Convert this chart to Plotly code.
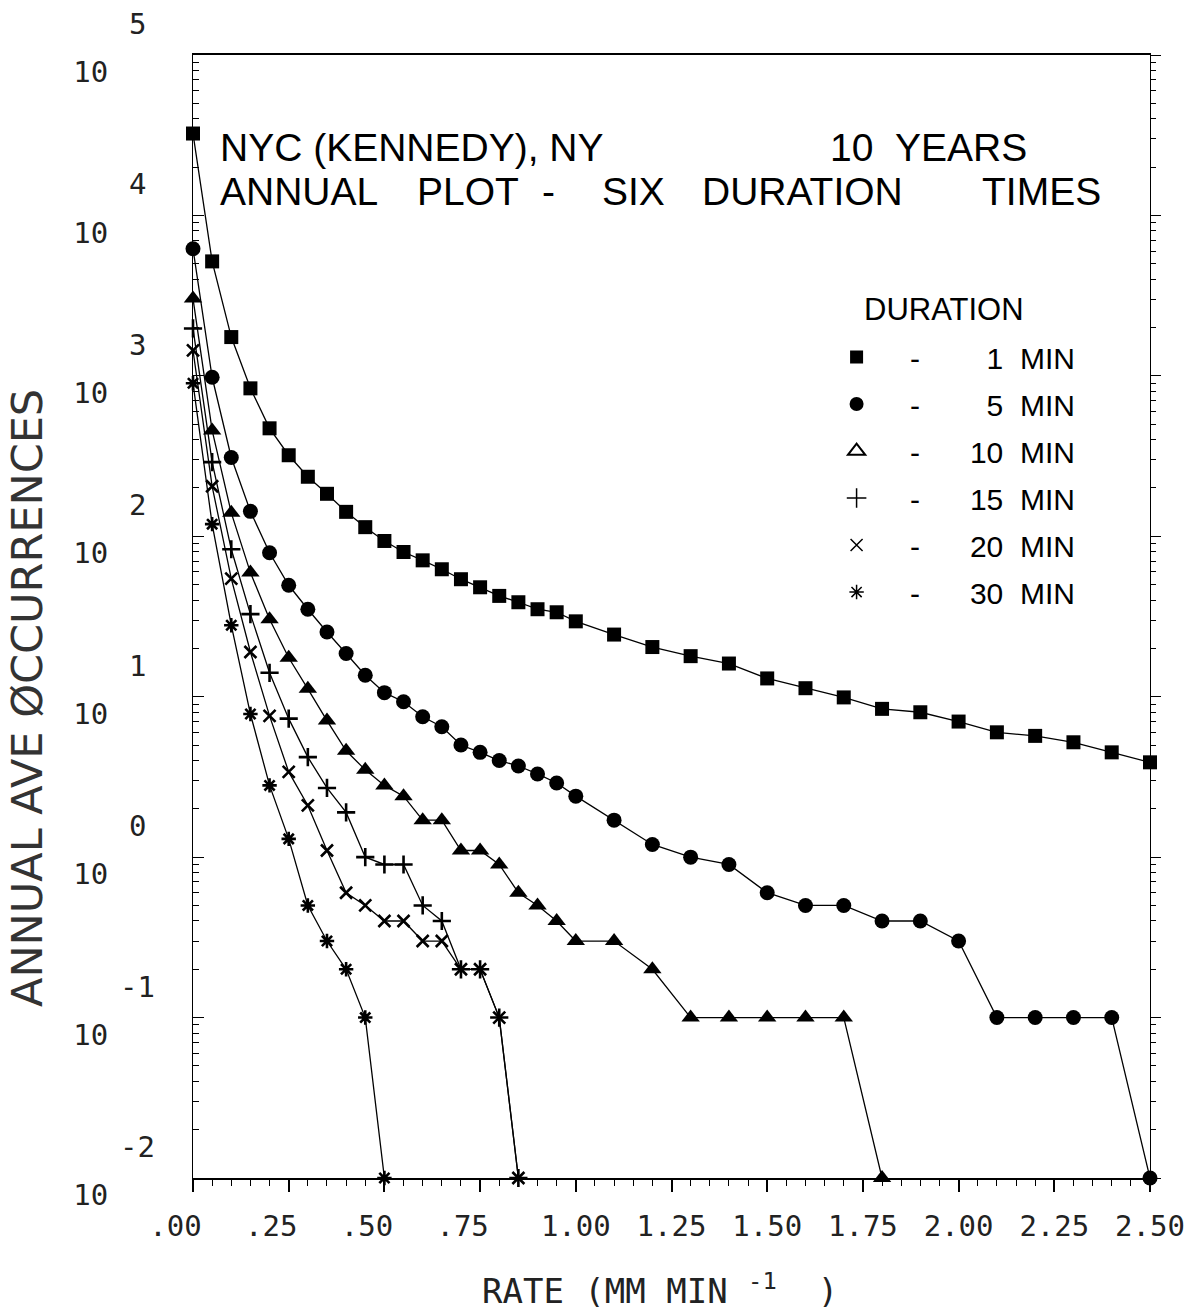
import plotly.graph_objects as go

# ---------------- data ----------------
rate_1_5 = [0.00, 0.05, 0.10, 0.15, 0.20, 0.25, 0.30, 0.35, 0.40, 0.45, 0.50,
            0.55, 0.60, 0.65, 0.70, 0.75, 0.80, 0.85, 0.90, 0.95, 1.00,
            1.10, 1.20, 1.30, 1.40, 1.50, 1.60, 1.70, 1.80, 1.90, 2.00,
            2.10, 2.20, 2.30, 2.40, 2.50]
occ_1min = [32400, 5170, 1745, 836, 471, 320, 235, 184, 142, 114, 93.5,
            79.8, 70.8, 62.3, 54.0, 48.1, 42.5, 38.8, 35.1, 33.6, 29.5,
            24.4, 20.4, 17.9, 16.1, 13.0, 11.3, 9.9, 8.4, 8.0, 7.0,
            6.0, 5.7, 5.2, 4.5, 3.9]
occ_5min = [6200, 980, 310, 143, 79, 49.5, 35.1, 25.3, 18.6, 13.6, 10.6,
            9.3, 7.5, 6.5, 5.0, 4.5, 4.0, 3.7, 3.3, 2.9, 2.4,
            1.7, 1.2, 1.0, 0.9, 0.6, 0.5, 0.5, 0.4, 0.4, 0.3,
            0.1, 0.1, 0.1, 0.1, 0.01]
rate_10 = [0.00, 0.05, 0.10, 0.15, 0.20, 0.25, 0.30, 0.35, 0.40, 0.45, 0.50,
           0.55, 0.60, 0.65, 0.70, 0.75, 0.80, 0.85, 0.90, 0.95, 1.00,
           1.10, 1.20, 1.30, 1.40, 1.50, 1.60, 1.70, 1.80]
occ_10min = [3030, 457, 140, 59.4, 30.4, 17.5, 11.2, 7.1, 4.6, 3.5, 2.8,
             2.4, 1.7, 1.7, 1.1, 1.1, 0.9, 0.6, 0.5, 0.4, 0.3,
             0.3, 0.2, 0.1, 0.1, 0.1, 0.1, 0.1, 0.01]
rate_15_20 = [0.00, 0.05, 0.10, 0.15, 0.20, 0.25, 0.30, 0.35, 0.40, 0.45,
              0.50, 0.55, 0.60, 0.65, 0.70, 0.75, 0.80, 0.85]
occ_15min = [1975, 290, 83, 32.7, 14.1, 7.3, 4.2, 2.7, 1.9, 1.0,
             0.9, 0.9, 0.5, 0.4, 0.2, 0.2, 0.1, 0.01]
occ_20min = [1440, 205, 54.5, 19.0, 7.6, 3.4, 2.1, 1.1, 0.6, 0.5,
             0.4, 0.4, 0.3, 0.3, 0.2, 0.2, 0.1, 0.01]
rate_30 = [0.00, 0.05, 0.10, 0.15, 0.20, 0.25, 0.30, 0.35, 0.40, 0.45, 0.50]
occ_30min = [900, 119, 27.9, 7.8, 2.8, 1.3, 0.5, 0.3, 0.2, 0.1, 0.01]

duration_labels = ["1", "5", "10", "15", "20", "30"]
x_ticks = [0.00, 0.25, 0.50, 0.75, 1.00, 1.25, 1.50, 1.75, 2.00, 2.25, 2.50]
x_ticktext = [".00", ".25", ".50", ".75", "1.00", "1.25", "1.50", "1.75", "2.00", "2.25", "2.50"]
y_exponents = [-2, -1, 0, 1, 2, 3, 4, 5]

# ---------------- styles ----------------
FONT = "Liberation Sans, Arial, Helvetica, sans-serif"
MONO = "DejaVu Sans Mono, Liberation Mono, monospace"
WIDE = "DejaVu Sans, Liberation Sans, sans-serif"
NB = "\u00a0"

series = [
    (rate_1_5, occ_1min, dict(symbol="square", size=14, color="black")),
    (rate_1_5, occ_5min, dict(symbol="circle", size=15, color="black")),
    (rate_10, occ_10min, dict(symbol="triangle-up", size=16, color="black")),
    (rate_15_20, occ_15min, dict(symbol="cross-thin", size=13, color="black",
                                 line=dict(color="black", width=2.6))),
    (rate_15_20, occ_20min, dict(symbol="x-thin", size=12, color="black",
                                 line=dict(color="black", width=2.6))),
    (rate_30, occ_30min, dict(symbol="asterisk", size=12, color="black",
                              line=dict(color="black", width=2.6))),
]

legend_markers = [
    dict(symbol="square", size=13, color="black"),
    dict(symbol="circle", size=14, color="black"),
    dict(symbol="triangle-up-open", size=15, color="black", line=dict(width=2)),
    dict(symbol="cross-thin", size=14, color="black", line=dict(color="black", width=1.5)),
    dict(symbol="x-thin", size=12, color="black", line=dict(color="black", width=1.5)),
    dict(symbol="asterisk", size=12, color="black", line=dict(color="black", width=1.5)),
]

fig = go.Figure()

for xs, ys, mk in series:
    fig.add_trace(go.Scatter(
        x=xs, y=ys, mode="lines+markers",
        line=dict(color="black", width=1.3),
        marker=mk, showlegend=False, cliponaxis=False, hoverinfo="skip"))

# legend entries (marker only)
for i, (lab, mk) in enumerate(zip(duration_labels, legend_markers)):
    pad = NB * (8 if len(lab) == 1 else 6)
    fig.add_trace(go.Scatter(
        x=[None], y=[None], mode="markers", marker=mk,
        name=NB * 4 + "-" + pad + lab + NB * 2 + "MIN",
        legendgroup="g%d" % i, showlegend=True))

# helper trace for right-hand axis
fig.add_trace(go.Scatter(x=[None], y=[None], yaxis="y2", showlegend=False,
                         hoverinfo="skip"))

decades = [10.0 ** e for e in y_exponents]
minor_vals = [m * 10.0 ** e for e in y_exponents[:-1] for m in range(2, 10)]

fig.update_layout(
    width=1186, height=1315,
    margin=dict(l=193, r=36, t=55, b=137),
    paper_bgcolor="white", plot_bgcolor="white",
    font=dict(family=FONT, color="black"),
    xaxis=dict(
        range=[0, 2.5], showgrid=False, zeroline=False, automargin=False,
        tickmode="array", tickvals=x_ticks,
        ticktext=[t + (NB * 2 if t.startswith(".") else "") for t in x_ticktext],
        ticks="outside", ticklen=12, tickwidth=1.5, tickcolor="black",
        minor=dict(dtick=0.05, ticks="outside", ticklen=6, tickwidth=1.2,
                   tickcolor="black"),
        showline=True, linecolor="black", linewidth=1.6, mirror=True,
        tickfont=dict(family=MONO, size=29, color="#222"),
        ticklabelstandoff=9, ticklabeloverflow="allow",
    ),
    yaxis=dict(
        type="log", range=[-2, 5], showgrid=False, zeroline=False, automargin=False,
        tickmode="array", tickvals=decades, ticktext=["10"] * len(decades),
        ticks="inside", ticklen=11, tickwidth=1.3, tickcolor="black",
        minor=dict(tickmode="array", tickvals=minor_vals, ticks="inside",
                   ticklen=6, tickwidth=1, tickcolor="black"),
        showline=True, linecolor="black", linewidth=1.2,
        tickfont=dict(family=MONO, size=29, color="#222"),
        ticklabelstandoff=78, ticklabelshift=17,
    ),
    yaxis2=dict(
        type="log", range=[-2, 5], overlaying="y", side="right", anchor="x",
        showgrid=False, zeroline=False, showticklabels=False, automargin=False,
        tickmode="array", tickvals=decades,
        ticks="outside", ticklen=10, tickwidth=1.3, tickcolor="black",
        minor=dict(tickmode="array", tickvals=minor_vals, ticks="outside",
                   ticklen=5, tickwidth=1, tickcolor="black"),
        showline=True, linecolor="black", linewidth=1.2,
    ),
    legend=dict(
        x=0.6725, y=0.7542, xanchor="left", yanchor="top",
        font=dict(family=FONT, size=30, color="black"),
        traceorder="grouped", tracegroupgap=5, itemsizing="trace",
        bgcolor="rgba(0,0,0,0)",
    ),
)

ann = []
# exponents of the y tick labels
for e in y_exponents:
    ann.append(dict(text=str(e), xref="paper", yref="y", x=(137 - 193) / 957, y=e,
                    xanchor="center", yanchor="middle",
                    yshift=31, showarrow=False,
                    font=dict(family=MONO, size=29, color="#222")))

# chart title (two lines)
title_words = [
    ("NYC (KENNEDY), NY", 218, 147), ("10", 828, 147), ("YEARS", 893, 147),
    ("ANNUAL", 218, 192), ("PLOT", 415, 192), ("-", 540, 192), ("SIX", 600, 192),
    ("DURATION", 700, 192), ("TIMES", 980, 192),
]
for txt, px, py in title_words:
    ann.append(dict(text=txt, xref="paper", yref="paper",
                    x=(px - 193) / 957, y=(1178 - py) / 1123,
                    xanchor="left", yanchor="middle", showarrow=False,
                    font=dict(family=FONT, size=39, color="black")))

# legend heading
ann.append(dict(text="DURATION", xref="paper", yref="paper",
                x=(862 - 193) / 957, y=(1178 - 310) / 1123,
                xanchor="left", yanchor="middle", showarrow=False,
                font=dict(family=FONT, size=31, color="black")))

# axis titles
ann.append(dict(text="ANNUAL AVE ØCCURRENCES", xref="paper", yref="paper",
                x=(27 - 193) / 957, y=(1178 - 698) / 1123, textangle=-90,
                xanchor="center", yanchor="middle", showarrow=False,
                font=dict(family=WIDE, size=43, color="#333")))
ann.append(dict(text="RATE" + NB + "(MM" + NB + "MIN" + NB + "<sup>-1</sup>" + NB * 2 + ")",
                xref="paper", yref="paper",
                x=(480 - 193) / 957, y=(1178 - 1289) / 1123,
                xanchor="left", yanchor="middle", showarrow=False,
                font=dict(family=MONO, size=34, color="#222")))

fig.update_layout(annotations=ann)

fig.write_html("out.html")
